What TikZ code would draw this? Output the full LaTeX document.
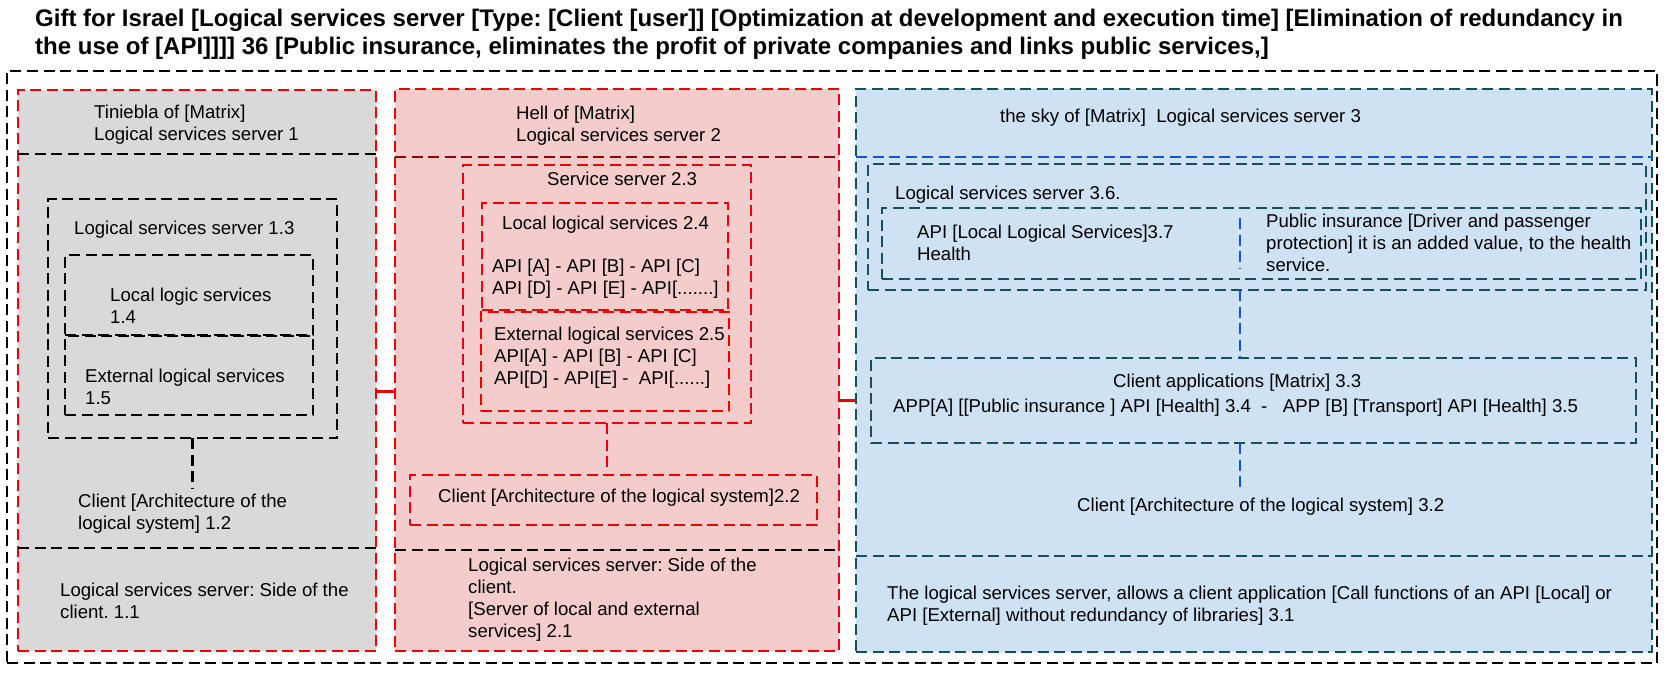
\documentclass[tikz,border=0pt]{standalone}
\usepackage{fontspec}
\setmainfont{Liberation Sans}
\frenchspacing
\definecolor{grayfill}{HTML}{D9D9D9}
\definecolor{redfill}{HTML}{F4CCCC}
\definecolor{bluefill}{HTML}{CFE2F3}
\definecolor{redline}{HTML}{F00000}
\definecolor{darkred}{HTML}{990000}
\definecolor{tealline}{HTML}{134F5C}
\definecolor{blueline}{HTML}{1155CC}

\begin{document}
\begin{tikzpicture}[x=1pt, y=-1pt,
  frame/.style={rectangle, draw, dash pattern=on 11pt off 5.5pt, line width=2.8pt,
    inner sep=0pt, outer sep=0pt, anchor=north west},
  blk/.style={frame, draw=black},
  redbox/.style={frame, draw=redline},
  tealbox/.style={frame, draw=tealline},
  dline/.style={dash pattern=on 11pt off 5.5pt, line width=2.8pt},
  link/.style={draw=redline, line width=3pt},
  txt/.style={anchor=north west, inner sep=0pt, align=left, font=\fontsize{18.6}{22}\selectfont}]
\useasboundingbox (0,0) rectangle (1677,677);

\node[anchor=north west, inner sep=0pt, align=left, font=\fontsize{24}{28}\bfseries\selectfont] (title) at (35,8.5)
  {Gift for Israel [Logical services server [Type: [Client [user]] [Optimization at development and execution time] [Elimination of redundancy in\\
   the use of [API]]]] 36 [Public insurance, eliminates the profit of private companies and links public services,]};

% cadre et colonnes
\node[blk, minimum width=1650pt, minimum height=592pt] (outer) at (7,71) {};
\node[redbox, fill=grayfill, minimum width=358pt, minimum height=561pt] (p1) at (18,90) {};
\node[redbox, fill=redfill, minimum width=444pt, minimum height=562pt] (p2) at (395,89) {};
\node[tealbox, fill=bluefill, minimum width=796pt, minimum height=563pt] (p3) at (856,89) {};

\draw[dline] (p1.west |- 0,154) -- (p1.east |- 0,154);
\draw[dline] (p1.west |- 0,548) -- (p1.east |- 0,548);
\draw[dline, darkred] (p2.west |- 0,157) -- (p2.east |- 0,157);
\draw[dline] (p2.west |- 0,550) -- (p2.east |- 0,550);
\draw[dline, blueline] (p3.west |- 0,157) -- (p3.east |- 0,157);
\draw[dline, tealline] (p3.west |- 0,556) -- (p3.east |- 0,556);

% colonne 1
\node[txt] (t1h) at (94,105) {Tiniebla of [Matrix]\\Logical services server 1};
\node[blk, minimum width=289pt, minimum height=239pt] (b13) at (48,199) {};
\node[txt] (t13) at (74,221) {Logical services server 1.3};
\node[blk, minimum width=248pt, minimum height=80pt] (b14) at (65,255) {};
\node[txt] (t14) at (110,288) {Local logic services\\1.4};
\node[blk, minimum width=248pt, minimum height=79pt] (b15) at (65,336) {};
\node[txt] (t15) at (85,369) {External logical services\\1.5};
\node[txt] (t12) at (78,494) {Client [Architecture of the\\logical system] 1.2};
\node[txt] (t11) at (60,583) {Logical services server: Side of the\\client. 1.1};
\draw[dline, shorten >=6pt] (b13.south) -- (b13.south |- t12.north);

% colonne 2
\node[txt] (t2h) at (516,106) {Hell of [Matrix]\\Logical services server 2};
\node[redbox, minimum width=288pt, minimum height=258pt] (b23) at (463,165) {};
\node[txt] (t23) at (547,172) {Service server 2.3};
\node[redbox, minimum width=246pt, minimum height=107pt] (b24) at (482,203) {};
\node[txt] (t24) at (502,216) {Local logical services 2.4};
\node[txt] (t24a) at (492,259) {API [A] - API [B] - API [C]\\API [D] - API [E] - API[.......]};
\node[redbox, minimum width=248pt, minimum height=99pt] (b25) at (481,312) {};
\node[txt] (t25) at (494,327) {External logical services 2.5\\API[A] - API [B] - API [C]\\API[D] - API[E] -\ \ API[......]};
\node[redbox, minimum width=407pt, minimum height=50pt] (b22) at (410,475) {};
\node[txt] (t22) at (438,489) {Client [Architecture of the logical system]2.2};
\node[txt] (t21) at (468,558) {Logical services server: Side of the\\client.\\{}[Server of local and external\\services] 2.1};
\draw[dline, redline, shorten >=8pt] (b23.south) -- (b23.south |- b22.north);

% colonne 3
\node[txt] (t3h) at (1000,109) {the sky of [Matrix]\ \ Logical services server 3};
\node[tealbox, minimum width=778pt, minimum height=126pt] (b36) at (868,164) {};
\node[txt] (t36) at (895,186) {Logical services server 3.6.};
\node[tealbox, minimum width=759pt, minimum height=71pt] (b37) at (882,208) {};
\node[txt] (t37) at (917,225) {API [Local Logical Services]3.7\\Health};
\node[txt] (tpi) at (1266,214) {Public insurance [Driver and passenger\\protection] it is an added value, to the health\\service.};
\node[tealbox, minimum width=765pt, minimum height=85pt] (b33) at (871,358) {};
\node[txt] (t33) at (1113,374) {Client applications [Matrix] 3.3};
\node[txt] (t34) at (893,399) {APP[A] [[Public insurance ] API [Health] 3.4\ \ -\ \ \ APP [B] [Transport] API [Health] 3.5};
\node[txt] (t32) at (1077,498) {Client [Architecture of the logical system] 3.2};
\node[txt] (t31) at (887,586) {The logical services server, allows a client application [Call functions of an API [Local] or\\API [External] without redundancy of libraries] 3.1};
\coordinate (k3) at (1240,0);
\draw[dline, blueline, shorten >=10pt, shorten <=10pt] (b37.north -| k3) -- (b37.south -| k3);
\draw[dline, blueline] (b36.south -| k3) -- (b33.north -| k3);
\draw[dline, blueline, shorten >=7pt] (b33.south -| k3) -- (t32.north -| k3);

% liaisons
\draw[link] ([yshift=-20.5pt]p1.east) -- ([yshift=-20.5pt]p1.east -| p2.west);
\draw[link] ([yshift=-30pt]p2.east) -- ([yshift=-30pt]p2.east -| p3.west);
\end{tikzpicture}
\end{document}
